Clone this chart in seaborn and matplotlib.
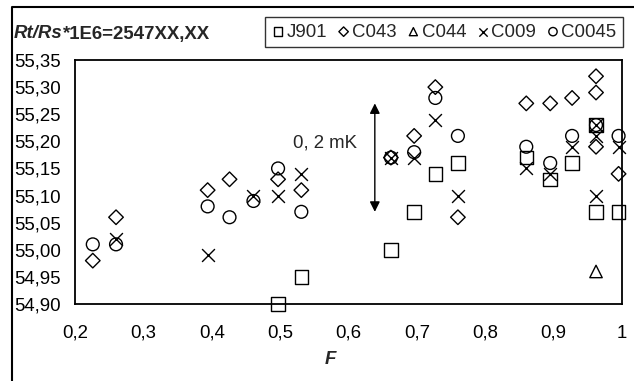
import numpy as np
import pandas as pd
import matplotlib
matplotlib.use('Agg')
import matplotlib.pyplot as plt
from matplotlib.lines import Line2D
import seaborn as sns

# readings per sample: fraction F and Rt/Rs*1E6 tail value
j901_f = [0.497, 0.531, 0.662, 0.696, 0.727, 0.760, 0.860, 0.895, 0.927, 0.962, 0.962, 0.995]
j901_v = [54.90, 54.95, 55.00, 55.07, 55.14, 55.16, 55.17, 55.13, 55.16, 55.23, 55.07, 55.07]

c043_f = [0.226, 0.260, 0.394, 0.426, 0.497, 0.531, 0.662, 0.696, 0.727, 0.760,
          0.860, 0.895, 0.927, 0.962, 0.962, 0.962, 0.995]
c043_v = [54.98, 55.06, 55.11, 55.13, 55.13, 55.11, 55.17, 55.21, 55.30, 55.06,
          55.27, 55.27, 55.28, 55.32, 55.29, 55.19, 55.14]

c044_f = [0.962]
c044_v = [54.96]

c009_f = [0.260, 0.394, 0.461, 0.497, 0.531, 0.662, 0.696, 0.727, 0.760,
          0.860, 0.895, 0.927, 0.962, 0.962, 0.962, 0.995]
c009_v = [55.02, 54.99, 55.10, 55.10, 55.14, 55.17, 55.17, 55.24, 55.10,
          55.15, 55.14, 55.19, 55.23, 55.21, 55.10, 55.19]

c0045_f = [0.226, 0.260, 0.394, 0.426, 0.461, 0.497, 0.531, 0.662, 0.696, 0.727,
           0.760, 0.860, 0.895, 0.927, 0.962, 0.995]
c0045_v = [55.01, 55.01, 55.08, 55.06, 55.09, 55.15, 55.07, 55.17, 55.18, 55.28,
           55.21, 55.19, 55.16, 55.21, 55.23, 55.21]

series_names = ['J901', 'C043', 'C044', 'C009', 'C0045']

x_ticks = [0.2, 0.3, 0.4, 0.5, 0.6, 0.7, 0.8, 0.9, 1.0]
x_tick_labels = ['0,2', '0,3', '0,4', '0,5', '0,6', '0,7', '0,8', '0,9', '1']
y_ticks = [54.90, 54.95, 55.00, 55.05, 55.10, 55.15, 55.20, 55.25, 55.30, 55.35]
y_tick_labels = ['54,90', '54,95', '55,00', '55,05', '55,10', '55,15', '55,20', '55,25', '55,30', '55,35']

# 0,2 mK scale bar
arrow_f = 0.6385
arrow_lo, arrow_hi = 55.07, 55.27

sns.set_theme(style='white')
plt.rcParams['font.family'] = ['Liberation Sans', 'DejaVu Sans']
FS = 13.4

df = pd.concat([
    pd.DataFrame({'F': f, 'v': v, 'series': n})
    for f, v, n in zip([j901_f, c043_f, c044_f, c009_f, c0045_f],
                       [j901_v, c043_v, c044_v, c009_v, c0045_v], series_names)
])

markers = {'J901': 's', 'C043': 'D', 'C044': '^', 'C009': 'x', 'C0045': 'o'}
sizes = {'J901': 95, 'C043': 55, 'C044': 80, 'C009': 85, 'C0045': 85}

fig = plt.figure(figsize=(6.34, 3.81), dpi=100)
ax = fig.add_axes([75 / 634, 1 - 304 / 381, (622 - 75) / 634, (304 - 60) / 381])

for name in series_names:
    sub = df[df['series'] == name]
    kw = dict(x=sub['F'], y=sub['v'], marker=markers[name], s=sizes[name],
              color='black', linewidth=1, ax=ax, label=name, clip_on=False, zorder=3)
    if markers[name] != 'x':
        kw.update(facecolors='none', edgecolors='black')
    sns.scatterplot(**kw)

ax.set_xlim(0.2, 1.0)
ax.set_ylim(54.90, 55.35)
ax.set_xticks(x_ticks)
ax.set_xticklabels(x_tick_labels)
ax.set_yticks(y_ticks)
ax.set_yticklabels(y_tick_labels)
ax.tick_params(axis='both', direction='in', length=6, width=1, colors='black', labelsize=FS)
ax.tick_params(axis='x', pad=15)
ax.tick_params(axis='y', pad=10)
ax.set_xlabel('')
ax.set_ylabel('')
for sp in ax.spines.values():
    sp.set_color('black')
    sp.set_linewidth(1.3)

ax.annotate('', xy=(arrow_f, arrow_hi), xytext=(arrow_f, arrow_lo),
            arrowprops=dict(arrowstyle='<|-|>', color='black', lw=1, mutation_scale=15,
                            shrinkA=0, shrinkB=0))
ax.text(0.519, 55.197, '0, 2 mK', fontsize=FS, ha='left', va='center')

handles, labels = ax.get_legend_handles_labels()
if ax.get_legend():
    ax.get_legend().remove()
leg = fig.legend(handles, labels, loc='upper right', bbox_to_anchor=(623 / 634, 1 - 17 / 381),
                 ncol=5, fontsize=FS, frameon=True, fancybox=False, edgecolor='black',
                 markerscale=0.65, handlelength=0.7, handletextpad=0.1, columnspacing=0.55,
                 borderpad=0.35, borderaxespad=0)
leg.get_frame().set_linewidth(1)

# title: italic part then the rest attached to it
t1 = fig.text(14 / 634, 1 - 34 / 381, 'Rt/Rs', fontsize=FS, fontweight='bold',
              style='italic', ha='left', va='center')
ax.annotate('*1E6=2547XX,XX', xy=(1, 0), xycoords=t1, fontsize=FS, fontweight='bold',
            ha='left', va='bottom', annotation_clip=False)

fig.text(330 / 634, 1 - 360 / 381, 'F', fontsize=FS, fontweight='bold', style='italic',
         ha='center', va='center')

# outer frame of the original chart
fig.add_artist(Line2D([12 / 634, 12 / 634, 1], [0, 1 - 7 / 381, 1 - 7 / 381],
                      transform=fig.transFigure, color='black', linewidth=1.5))

fig.savefig('out.png', dpi=100)
plt.close()
